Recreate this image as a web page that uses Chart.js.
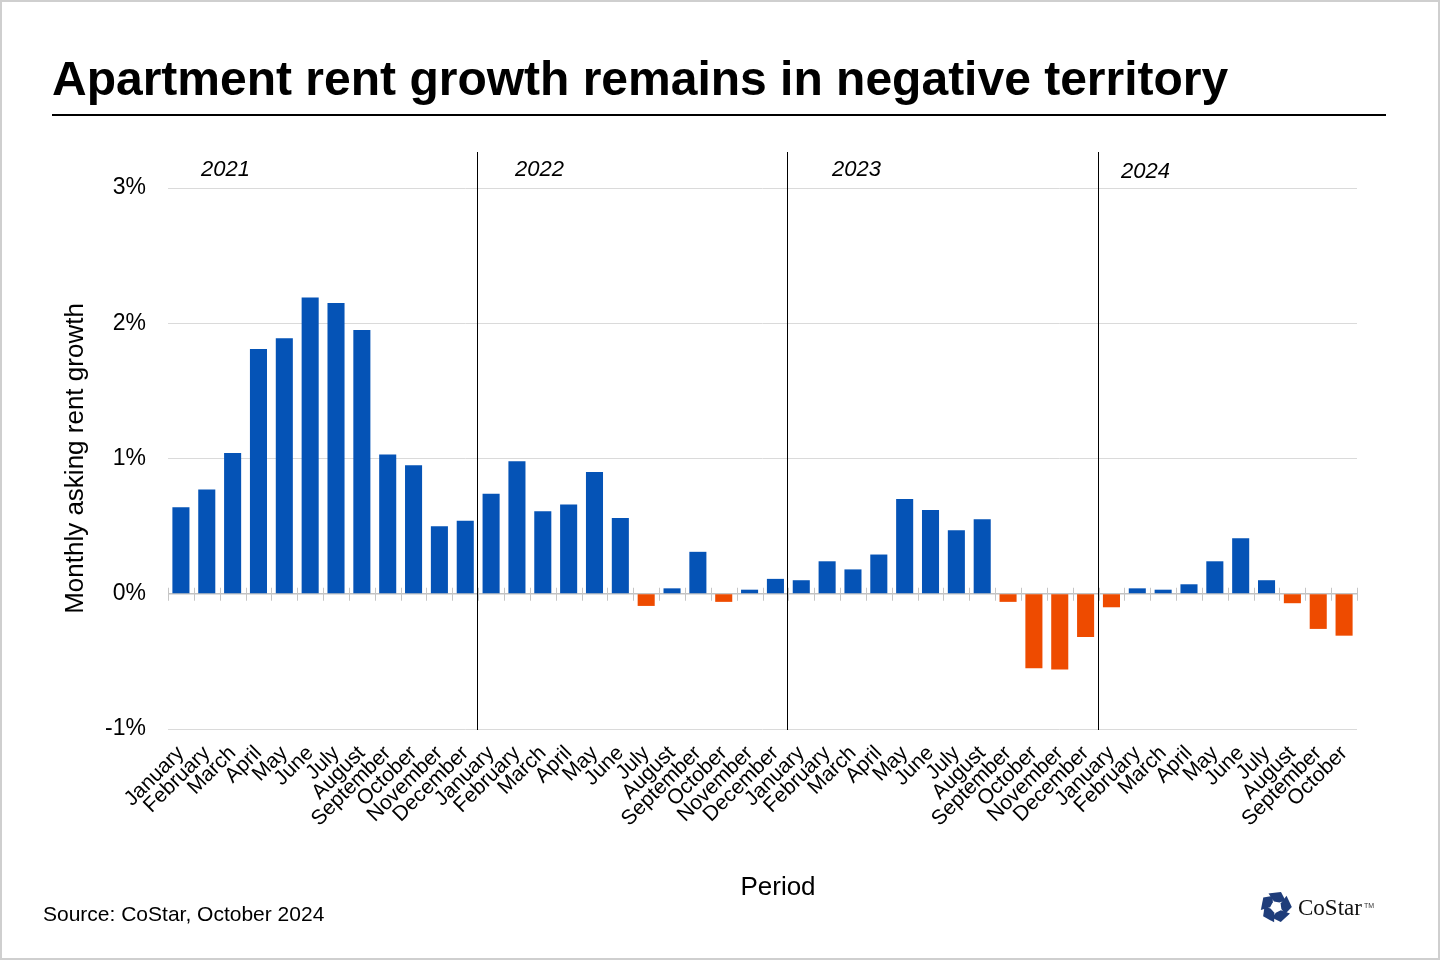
<!DOCTYPE html>
<html>
<head>
<meta charset="utf-8">
<script src="https://cdn.jsdelivr.net/npm/chart.js@4.4.1/dist/chart.umd.min.js"></script>
<style>
  html, body { margin: 0; padding: 0; background: #fff; }
  #wrap { position: relative; width: 1440px; height: 960px; overflow: hidden; background: #fff;
          font-family: "Liberation Sans", Arial, Helvetica, sans-serif; color: #000; }
  #frame { position: absolute; left: 0; top: 0; width: 1440px; height: 960px; box-sizing: border-box;
           border: 2px solid #cfcfcf; pointer-events: none; }
  canvas { position: absolute; left: 0; top: 0; }
  .txt { position: absolute; line-height: 1; white-space: nowrap; }
  #title { left: 52px; top: 55px; font-size: 48px; font-weight: bold; }
  #rule { position: absolute; left: 52px; top: 114px; width: 1334px; height: 2px; background: #000; }
  .year { font-size: 22px; font-style: italic; }
  #period { left: 778px; top: 873px; font-size: 26px; transform: translateX(-50%); }
  #source { left: 43px; top: 903px; font-size: 21px; }
  #logoText { left: 1298px; top: 896px; font-size: 23px; font-family: "Liberation Serif", "DejaVu Serif", serif; color: #111; }
  #tm { left: 1364px; top: 902px; font-size: 7px; color: #333; }
  #logo { position: absolute; left: 1260px; top: 891px; }
</style>
</head>
<body>
<div id="wrap">
  <canvas id="chart" width="1440" height="960"></canvas>
  <div id="title" class="txt">Apartment rent growth remains in negative territory</div>
  <div id="rule"></div>
  <div class="txt year" style="left:201px; top:158px;">2021</div>
  <div class="txt year" style="left:515px; top:158px;">2022</div>
  <div class="txt year" style="left:832px; top:158px;">2023</div>
  <div class="txt year" style="left:1121px; top:160px;">2024</div>
  <div id="period" class="txt">Period</div>
  <div id="source" class="txt">Source: CoStar, October 2024</div>
  <svg id="logo" width="32" height="32" viewBox="-16 -16 32 32">
    <g fill="#1f3d7a">
      <polygon points="-2,-5.5 -7.5,-13.5 5,-15 9.5,-6.5 3.5,-4.5" transform="rotate(0)"/>
      <polygon points="-2,-5.5 -7.5,-13.5 5,-15 9.5,-6.5 3.5,-4.5" transform="rotate(72)"/>
      <polygon points="-2,-5.5 -7.5,-13.5 5,-15 9.5,-6.5 3.5,-4.5" transform="rotate(144)"/>
      <polygon points="-2,-5.5 -7.5,-13.5 5,-15 9.5,-6.5 3.5,-4.5" transform="rotate(216)"/>
      <polygon points="-2,-5.5 -7.5,-13.5 5,-15 9.5,-6.5 3.5,-4.5" transform="rotate(288)"/>
    </g>
  </svg>
  <div id="logoText" class="txt">CoStar</div>
  <div id="tm" class="txt">TM</div>
  <div id="frame"></div>
</div>
<script>
// ---- data ----
const monthLabels = [
  'January','February','March','April','May','June','July','August','September','October','November','December',
  'January','February','March','April','May','June','July','August','September','October','November','December',
  'January','February','March','April','May','June','July','August','September','October','November','December',
  'January','February','March','April','May','June','July','August','September','October'
];
const growth2021 = [0.64, 0.77, 1.04, 1.81, 1.89, 2.19, 2.15, 1.95, 1.03, 0.95, 0.50, 0.54];
const growth2022 = [0.74, 0.98, 0.61, 0.66, 0.90, 0.56, -0.09, 0.04, 0.31, -0.06, 0.03, 0.11];
const growth2023 = [0.10, 0.24, 0.18, 0.29, 0.70, 0.62, 0.47, 0.55, -0.06, -0.55, -0.56, -0.32];
const growth2024 = [-0.10, 0.04, 0.03, 0.07, 0.24, 0.41, 0.10, -0.07, -0.26, -0.31];
const growthValues = [].concat(growth2021, growth2022, growth2023, growth2024);
const yearStartIndex = [0, 12, 24, 36];
const yTickValues = [-1, 0, 1, 2, 3];

const BLUE = '#0553b6';
const ORANGE = '#ee4b00';

Chart.defaults.font.family = '"Liberation Sans", Arial, Helvetica, sans-serif';
Chart.defaults.color = '#000';

const decor = {
  id: 'decor',
  beforeDatasetsDraw(chart) {
    const xs = chart.scales.x, ys = chart.scales.y, c = chart.ctx;
    const n = chart.data.labels.length;
    const half = (xs.getPixelForValue(1) - xs.getPixelForValue(0)) / 2;
    const y0 = ys.getPixelForValue(0);
    c.save();
    c.strokeStyle = '#c2c2c2';
    c.lineWidth = 1.5;
    c.beginPath();
    c.moveTo(chart.chartArea.left, y0);
    c.lineTo(chart.chartArea.right, y0);
    c.stroke();
    c.lineWidth = 1;
    c.strokeStyle = '#c6c6c6';
    for (let i = 0; i <= n; i++) {
      const x = Math.round(i < n ? xs.getPixelForValue(i) - half : xs.getPixelForValue(n - 1) + half) + 0.5;
      c.beginPath();
      c.moveTo(x, y0 - 6);
      c.lineTo(x, y0 + 7);
      c.stroke();
    }
    c.restore();
  },
  afterDatasetsDraw(chart) {
    const xs = chart.scales.x, c = chart.ctx;
    const half = (xs.getPixelForValue(1) - xs.getPixelForValue(0)) / 2;
    c.save();
    c.strokeStyle = '#000';
    c.lineWidth = 1;
    yearStartIndex.slice(1).forEach(idx => {
      const x = Math.round(xs.getPixelForValue(idx) - half) - 0.5;
      c.beginPath();
      c.moveTo(x, chart.chartArea.top - 36);
      c.lineTo(x, chart.chartArea.bottom + 1);
      c.stroke();
    });
    c.restore();
  }
};

new Chart(document.getElementById('chart'), {
  type: 'bar',
  data: {
    labels: monthLabels,
    datasets: [{
      data: growthValues,
      backgroundColor: growthValues.map(v => v < 0 ? ORANGE : BLUE),
      borderWidth: 0,
      barPercentage: 0.66,
      categoryPercentage: 1.0
    }]
  },
  options: {
    responsive: false,
    animation: false,
    devicePixelRatio: 1,
    layout: { padding: { left: 52, top: 188, right: 83, bottom: 0 } },
    plugins: { legend: { display: false }, tooltip: { enabled: false } },
    scales: {
      x: {
        offset: true,
        grid: { display: false, drawTicks: false },
        border: { display: false },
        ticks: { autoSkip: false, maxRotation: 45, minRotation: 45, padding: 12, color: '#000', font: { size: 21 } },
        afterFit(s) { s.height = 231; }
      },
      y: {
        min: -1, max: 3,
        afterBuildTicks(s) { s.ticks = yTickValues.map(v => ({ value: v })); },
        ticks: { callback: v => v + '%', color: '#000', font: { size: 23 }, padding: 22 },
        grid: { color: '#dadada', lineWidth: 1, drawTicks: false },
        border: { display: false },
        title: { display: true, text: 'Monthly asking rent growth', color: '#000', font: { size: 26 }, padding: { top: 8, bottom: 0 } },
        afterFit(s) { s.width = 116; }
      }
    }
  },
  plugins: [decor]
});
</script>
</body>
</html>
